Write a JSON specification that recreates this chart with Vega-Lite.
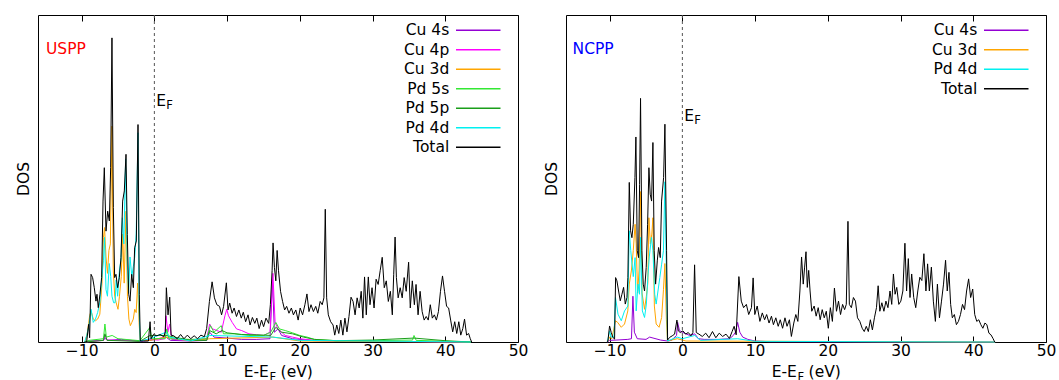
{
  "$schema": "https://vega.github.io/schema/vega-lite/v6.json",
  "padding": {"left": 15, "top": 14, "right": 0, "bottom": 0},
  "background": "white",
  "config": {
    "font": "DejaVu Sans",
    "view": {"stroke": "black", "strokeWidth": 1},
    "axis": {"grid": false, "labelFont": "DejaVu Sans", "titleFont": "DejaVu Sans"},
    "text": {"font": "DejaVu Sans", "color": "black"}
  },
  "bounds": "flush",
  "spacing": 48,
  "resolve": {"scale": {"color": "independent"}, "legend": {"color": "independent"}},
  "datasets": {
    "uspp": [
      {"s":"Cu 4s","x":-9.5,"y":0},{"s":"Cu 4s","x":-9,"y":0.3},{"s":"Cu 4s","x":-7,"y":0.5},{"s":"Cu 4s","x":-6.8,"y":1.2},{"s":"Cu 4s","x":-6.5,"y":0.5},{"s":"Cu 4s","x":-4.5,"y":0.8},{"s":"Cu 4s","x":-2,"y":0.2},{"s":"Cu 4s","x":-0.6,"y":0.5},{"s":"Cu 4s","x":1.6,"y":1.5},{"s":"Cu 4s","x":2.2,"y":0.5},{"s":"Cu 4s","x":5,"y":0.3},{"s":"Cu 4s","x":7.2,"y":0.5},{"s":"Cu 4s","x":7.6,"y":3},{"s":"Cu 4s","x":8.2,"y":1.5},{"s":"Cu 4s","x":10,"y":1.2},{"s":"Cu 4s","x":12,"y":0.8},{"s":"Cu 4s","x":14,"y":0.8},{"s":"Cu 4s","x":15.9,"y":1},{"s":"Cu 4s","x":16.25,"y":19},{"s":"Cu 4s","x":16.5,"y":3},{"s":"Cu 4s","x":17,"y":4},{"s":"Cu 4s","x":17.5,"y":2},{"s":"Cu 4s","x":19,"y":1},{"s":"Cu 4s","x":22,"y":0.4},{"s":"Cu 4s","x":30,"y":0.2},{"s":"Cu 4s","x":43.5,"y":0},
      {"s":"Cu 4p","x":-9.5,"y":0},{"s":"Cu 4p","x":-7,"y":0.5},{"s":"Cu 4p","x":-6.8,"y":2},{"s":"Cu 4p","x":-6.5,"y":0.6},{"s":"Cu 4p","x":-5,"y":0.5},{"s":"Cu 4p","x":-2,"y":0.3},{"s":"Cu 4p","x":-0.6,"y":0.8},{"s":"Cu 4p","x":0.5,"y":0.6},{"s":"Cu 4p","x":1.4,"y":1},{"s":"Cu 4p","x":1.6,"y":8},{"s":"Cu 4p","x":1.85,"y":3},{"s":"Cu 4p","x":2.1,"y":5.5},{"s":"Cu 4p","x":2.4,"y":0.8},{"s":"Cu 4p","x":5,"y":0.6},{"s":"Cu 4p","x":7.2,"y":1},{"s":"Cu 4p","x":7.6,"y":5.5},{"s":"Cu 4p","x":8,"y":4},{"s":"Cu 4p","x":8.6,"y":3.5},{"s":"Cu 4p","x":9.2,"y":3},{"s":"Cu 4p","x":9.7,"y":8},{"s":"Cu 4p","x":9.95,"y":10},{"s":"Cu 4p","x":10.2,"y":8},{"s":"Cu 4p","x":10.7,"y":6},{"s":"Cu 4p","x":11.3,"y":4},{"s":"Cu 4p","x":12,"y":3.5},{"s":"Cu 4p","x":13,"y":2.5},{"s":"Cu 4p","x":14,"y":2.2},{"s":"Cu 4p","x":15,"y":2},{"s":"Cu 4p","x":15.9,"y":3},{"s":"Cu 4p","x":16.3,"y":21},{"s":"Cu 4p","x":16.6,"y":6},{"s":"Cu 4p","x":17,"y":4},{"s":"Cu 4p","x":18,"y":2},{"s":"Cu 4p","x":19,"y":1.5},{"s":"Cu 4p","x":20,"y":1},{"s":"Cu 4p","x":22,"y":0.5},{"s":"Cu 4p","x":25,"y":0.3},{"s":"Cu 4p","x":43.5,"y":0},
      {"s":"Cu 3d","x":-9.5,"y":0},{"s":"Cu 3d","x":-9.2,"y":3},{"s":"Cu 3d","x":-8.9,"y":8},{"s":"Cu 3d","x":-8.7,"y":9.5},{"s":"Cu 3d","x":-8.4,"y":7},{"s":"Cu 3d","x":-8.1,"y":6.5},{"s":"Cu 3d","x":-7.8,"y":7},{"s":"Cu 3d","x":-7.5,"y":8.5},{"s":"Cu 3d","x":-7.2,"y":18},{"s":"Cu 3d","x":-7.0,"y":32},{"s":"Cu 3d","x":-6.85,"y":35},{"s":"Cu 3d","x":-6.65,"y":26},{"s":"Cu 3d","x":-6.45,"y":21},{"s":"Cu 3d","x":-6.25,"y":28},{"s":"Cu 3d","x":-6.05,"y":30},{"s":"Cu 3d","x":-5.83,"y":66},{"s":"Cu 3d","x":-5.65,"y":22},{"s":"Cu 3d","x":-5.45,"y":14},{"s":"Cu 3d","x":-5.25,"y":12},{"s":"Cu 3d","x":-5.0,"y":10},{"s":"Cu 3d","x":-4.8,"y":14},{"s":"Cu 3d","x":-4.55,"y":20},{"s":"Cu 3d","x":-4.35,"y":33},{"s":"Cu 3d","x":-4.15,"y":18},{"s":"Cu 3d","x":-3.9,"y":40},{"s":"Cu 3d","x":-3.7,"y":14},{"s":"Cu 3d","x":-3.5,"y":7},{"s":"Cu 3d","x":-3.3,"y":5},{"s":"Cu 3d","x":-3.1,"y":6},{"s":"Cu 3d","x":-2.9,"y":7},{"s":"Cu 3d","x":-2.7,"y":10},{"s":"Cu 3d","x":-2.5,"y":9},{"s":"Cu 3d","x":-2.3,"y":18},{"s":"Cu 3d","x":-2.1,"y":6},{"s":"Cu 3d","x":-1.95,"y":0.5},{"s":"Cu 3d","x":-0.6,"y":0.5},{"s":"Cu 3d","x":1.6,"y":1.5},{"s":"Cu 3d","x":5,"y":0.3},{"s":"Cu 3d","x":7.6,"y":1},{"s":"Cu 3d","x":16.3,"y":1.5},{"s":"Cu 3d","x":20,"y":0.3},{"s":"Cu 3d","x":43.5,"y":0},
      {"s":"Pd 5s","x":-9.5,"y":0},{"s":"Pd 5s","x":-9,"y":0.5},{"s":"Pd 5s","x":-7,"y":1},{"s":"Pd 5s","x":-6.8,"y":5.5},{"s":"Pd 5s","x":-6.6,"y":1.5},{"s":"Pd 5s","x":-5.8,"y":2},{"s":"Pd 5s","x":-5,"y":1},{"s":"Pd 5s","x":-2,"y":0.4},{"s":"Pd 5s","x":-0.6,"y":4.5},{"s":"Pd 5s","x":-0.4,"y":1},{"s":"Pd 5s","x":1.5,"y":1},{"s":"Pd 5s","x":1.7,"y":4},{"s":"Pd 5s","x":2,"y":1},{"s":"Pd 5s","x":5,"y":0.8},{"s":"Pd 5s","x":7.2,"y":1},{"s":"Pd 5s","x":7.7,"y":5},{"s":"Pd 5s","x":8.2,"y":3},{"s":"Pd 5s","x":9.2,"y":5},{"s":"Pd 5s","x":9.5,"y":2.5},{"s":"Pd 5s","x":11,"y":2.5},{"s":"Pd 5s","x":13,"y":2},{"s":"Pd 5s","x":15,"y":2},{"s":"Pd 5s","x":16,"y":3},{"s":"Pd 5s","x":16.7,"y":6},{"s":"Pd 5s","x":17.2,"y":4},{"s":"Pd 5s","x":18,"y":3.5},{"s":"Pd 5s","x":19,"y":2.8},{"s":"Pd 5s","x":20,"y":2},{"s":"Pd 5s","x":21,"y":1.5},{"s":"Pd 5s","x":22,"y":0.8},{"s":"Pd 5s","x":25,"y":0.4},{"s":"Pd 5s","x":30,"y":0.4},{"s":"Pd 5s","x":35.5,"y":0.6},{"s":"Pd 5s","x":35.7,"y":2},{"s":"Pd 5s","x":36,"y":0.5},{"s":"Pd 5s","x":43.5,"y":0},
      {"s":"Pd 5p","x":-9.5,"y":0},{"s":"Pd 5p","x":-7,"y":0.5},{"s":"Pd 5p","x":-6.8,"y":2.5},{"s":"Pd 5p","x":-6.5,"y":0.5},{"s":"Pd 5p","x":-2,"y":0.2},{"s":"Pd 5p","x":-0.6,"y":2},{"s":"Pd 5p","x":1.6,"y":2},{"s":"Pd 5p","x":5,"y":0.5},{"s":"Pd 5p","x":7.2,"y":0.5},{"s":"Pd 5p","x":7.6,"y":3.5},{"s":"Pd 5p","x":8.5,"y":2.5},{"s":"Pd 5p","x":9.3,"y":3.5},{"s":"Pd 5p","x":10,"y":2.8},{"s":"Pd 5p","x":12,"y":2.3},{"s":"Pd 5p","x":14,"y":2.2},{"s":"Pd 5p","x":16,"y":2},{"s":"Pd 5p","x":16.7,"y":4.5},{"s":"Pd 5p","x":17.5,"y":3},{"s":"Pd 5p","x":19,"y":2.5},{"s":"Pd 5p","x":20.5,"y":1.5},{"s":"Pd 5p","x":22,"y":0.8},{"s":"Pd 5p","x":25,"y":0.4},{"s":"Pd 5p","x":30,"y":0.6},{"s":"Pd 5p","x":35.7,"y":1.2},{"s":"Pd 5p","x":40,"y":0.4},{"s":"Pd 5p","x":43.5,"y":0},
      {"s":"Pd 4d","x":-9.6,"y":0},{"s":"Pd 4d","x":-9.3,"y":2},{"s":"Pd 4d","x":-9.0,"y":5},{"s":"Pd 4d","x":-8.7,"y":10},{"s":"Pd 4d","x":-8.4,"y":6},{"s":"Pd 4d","x":-8.1,"y":7},{"s":"Pd 4d","x":-7.8,"y":9},{"s":"Pd 4d","x":-7.5,"y":12},{"s":"Pd 4d","x":-7.25,"y":19},{"s":"Pd 4d","x":-7.0,"y":25},{"s":"Pd 4d","x":-6.85,"y":32},{"s":"Pd 4d","x":-6.65,"y":16},{"s":"Pd 4d","x":-6.45,"y":14},{"s":"Pd 4d","x":-6.2,"y":24},{"s":"Pd 4d","x":-6.0,"y":20},{"s":"Pd 4d","x":-5.83,"y":14},{"s":"Pd 4d","x":-5.6,"y":12},{"s":"Pd 4d","x":-5.4,"y":12},{"s":"Pd 4d","x":-5.25,"y":19},{"s":"Pd 4d","x":-5.05,"y":14},{"s":"Pd 4d","x":-4.8,"y":22},{"s":"Pd 4d","x":-4.6,"y":25},{"s":"Pd 4d","x":-4.4,"y":38},{"s":"Pd 4d","x":-4.2,"y":30},{"s":"Pd 4d","x":-3.95,"y":56},{"s":"Pd 4d","x":-3.75,"y":26},{"s":"Pd 4d","x":-3.55,"y":15},{"s":"Pd 4d","x":-3.35,"y":26},{"s":"Pd 4d","x":-3.1,"y":20},{"s":"Pd 4d","x":-2.9,"y":23},{"s":"Pd 4d","x":-2.7,"y":26},{"s":"Pd 4d","x":-2.5,"y":33},{"s":"Pd 4d","x":-2.25,"y":64},{"s":"Pd 4d","x":-2.1,"y":10},{"s":"Pd 4d","x":-1.95,"y":0.3},{"s":"Pd 4d","x":-0.6,"y":1},{"s":"Pd 4d","x":1.6,"y":3},{"s":"Pd 4d","x":2.1,"y":1.5},{"s":"Pd 4d","x":5,"y":0.3},{"s":"Pd 4d","x":7.6,"y":2},{"s":"Pd 4d","x":16.3,"y":1.5},{"s":"Pd 4d","x":20,"y":0.5},{"s":"Pd 4d","x":43.5,"y":0},
      {"s":"Total","x":-9.6,"y":0},{"s":"Total","x":-9.31,"y":0},{"s":"Total","x":-9.04,"y":5.4},{"s":"Total","x":-8.9,"y":1.3},{"s":"Total","x":-8.71,"y":20.7},{"s":"Total","x":-8.49,"y":19.7},{"s":"Total","x":-8.26,"y":16.6},{"s":"Total","x":-8.03,"y":12.5},{"s":"Total","x":-7.89,"y":14.6},{"s":"Total","x":-7.71,"y":10.5},{"s":"Total","x":-7.48,"y":14.6},{"s":"Total","x":-7.25,"y":19.7},{"s":"Total","x":-7.06,"y":43.1},{"s":"Total","x":-6.88,"y":53.3},{"s":"Total","x":-6.65,"y":33.9},{"s":"Total","x":-6.42,"y":40.0},{"s":"Total","x":-6.19,"y":37.0},{"s":"Total","x":-6.01,"y":53.3},{"s":"Total","x":-5.83,"y":93.0},{"s":"Total","x":-5.64,"y":41.1},{"s":"Total","x":-5.46,"y":19.7},{"s":"Total","x":-5.28,"y":20.7},{"s":"Total","x":-5.05,"y":16.6},{"s":"Total","x":-4.82,"y":19.7},{"s":"Total","x":-4.59,"y":25.8},{"s":"Total","x":-4.36,"y":43.1},{"s":"Total","x":-4.13,"y":46.2},{"s":"Total","x":-3.9,"y":57.4},{"s":"Total","x":-3.72,"y":32.9},{"s":"Total","x":-3.53,"y":14.6},{"s":"Total","x":-3.35,"y":12.5},{"s":"Total","x":-3.12,"y":20.7},{"s":"Total","x":-2.89,"y":16.6},{"s":"Total","x":-2.71,"y":28.8},{"s":"Total","x":-2.48,"y":30.9},{"s":"Total","x":-2.25,"y":66.5},{"s":"Total","x":-2.07,"y":14.6},{"s":"Total","x":-1.93,"y":0.3},{"s":"Total","x":-1.52,"y":0.3},{"s":"Total","x":-0.82,"y":0.3},{"s":"Total","x":-0.59,"y":6.2},{"s":"Total","x":-0.45,"y":1.0},{"s":"Total","x":-0.12,"y":2.3},{"s":"Total","x":0.35,"y":1.9},{"s":"Total","x":0.81,"y":2.3},{"s":"Total","x":1.28,"y":1.6},{"s":"Total","x":1.51,"y":3.1},{"s":"Total","x":1.65,"y":16.6},{"s":"Total","x":1.88,"y":8.3},{"s":"Total","x":2.11,"y":13.7},{"s":"Total","x":2.3,"y":2.1},{"s":"Total","x":2.67,"y":1.9},{"s":"Total","x":3.14,"y":1.0},{"s":"Total","x":3.61,"y":2.3},{"s":"Total","x":4.07,"y":1.0},{"s":"Total","x":4.54,"y":2.1},{"s":"Total","x":5.0,"y":1.0},{"s":"Total","x":5.47,"y":1.9},{"s":"Total","x":5.94,"y":1.0},{"s":"Total","x":6.4,"y":2.1},{"s":"Total","x":6.87,"y":1.6},{"s":"Total","x":7.19,"y":4.1},{"s":"Total","x":7.57,"y":12.4},{"s":"Total","x":7.94,"y":18.4},{"s":"Total","x":8.26,"y":13.5},{"s":"Total","x":8.59,"y":11.4},{"s":"Total","x":8.96,"y":10.9},{"s":"Total","x":9.24,"y":8.3},{"s":"Total","x":9.52,"y":10.9},{"s":"Total","x":9.9,"y":18.1},{"s":"Total","x":10.13,"y":9.8},{"s":"Total","x":10.36,"y":11.9},{"s":"Total","x":10.69,"y":8.8},{"s":"Total","x":10.97,"y":10.4},{"s":"Total","x":11.29,"y":7.8},{"s":"Total","x":11.62,"y":9.8},{"s":"Total","x":11.95,"y":7.3},{"s":"Total","x":12.23,"y":9.1},{"s":"Total","x":12.55,"y":6.2},{"s":"Total","x":12.88,"y":8.3},{"s":"Total","x":13.16,"y":5.2},{"s":"Total","x":13.48,"y":7.5},{"s":"Total","x":13.81,"y":5.7},{"s":"Total","x":14.09,"y":7.3},{"s":"Total","x":14.41,"y":4.1},{"s":"Total","x":14.74,"y":6.7},{"s":"Total","x":15.02,"y":4.7},{"s":"Total","x":15.35,"y":7.3},{"s":"Total","x":15.72,"y":5.7},{"s":"Total","x":15.95,"y":11.4},{"s":"Total","x":16.19,"y":21.8},{"s":"Total","x":16.32,"y":30.3},{"s":"Total","x":16.51,"y":22.8},{"s":"Total","x":16.7,"y":18.7},{"s":"Total","x":16.88,"y":28.0},{"s":"Total","x":17.07,"y":21.8},{"s":"Total","x":17.35,"y":15.5},{"s":"Total","x":17.63,"y":12.4},{"s":"Total","x":17.91,"y":9.8},{"s":"Total","x":18.19,"y":10.9},{"s":"Total","x":18.51,"y":8.8},{"s":"Total","x":18.84,"y":10.4},{"s":"Total","x":19.12,"y":8.3},{"s":"Total","x":19.45,"y":9.8},{"s":"Total","x":19.77,"y":6.7},{"s":"Total","x":20.05,"y":10.4},{"s":"Total","x":20.38,"y":8.3},{"s":"Total","x":20.7,"y":11.4},{"s":"Total","x":20.98,"y":14.7},{"s":"Total","x":21.26,"y":9.3},{"s":"Total","x":21.54,"y":11.4},{"s":"Total","x":21.87,"y":9.3},{"s":"Total","x":22.19,"y":10.9},{"s":"Total","x":22.47,"y":8.8},{"s":"Total","x":22.8,"y":12.4},{"s":"Total","x":23.08,"y":11.4},{"s":"Total","x":23.31,"y":13.5},{"s":"Total","x":23.5,"y":40.6},{"s":"Total","x":23.69,"y":13.5},{"s":"Total","x":23.92,"y":8.3},{"s":"Total","x":24.24,"y":6.2},{"s":"Total","x":24.57,"y":5.2},{"s":"Total","x":24.8,"y":2.1},{"s":"Total","x":25.08,"y":5.2},{"s":"Total","x":25.36,"y":2.6},{"s":"Total","x":25.64,"y":6.7},{"s":"Total","x":25.92,"y":2.1},{"s":"Total","x":26.2,"y":7.3},{"s":"Total","x":26.48,"y":3.1},{"s":"Total","x":26.76,"y":7.8},{"s":"Total","x":27.04,"y":13.7},{"s":"Total","x":27.32,"y":12.4},{"s":"Total","x":27.6,"y":8.3},{"s":"Total","x":27.88,"y":13.5},{"s":"Total","x":28.16,"y":10.4},{"s":"Total","x":28.44,"y":15.5},{"s":"Total","x":28.67,"y":7.3},{"s":"Total","x":28.9,"y":19.9},{"s":"Total","x":29.14,"y":8.3},{"s":"Total","x":29.42,"y":19.9},{"s":"Total","x":29.65,"y":11.4},{"s":"Total","x":29.93,"y":16.6},{"s":"Total","x":30.21,"y":10.4},{"s":"Total","x":30.49,"y":19.2},{"s":"Total","x":30.77,"y":17.6},{"s":"Total","x":31.05,"y":21.8},{"s":"Total","x":31.33,"y":25.9},{"s":"Total","x":31.61,"y":16.6},{"s":"Total","x":31.89,"y":18.7},{"s":"Total","x":32.17,"y":12.4},{"s":"Total","x":32.45,"y":15.5},{"s":"Total","x":32.72,"y":8.3},{"s":"Total","x":32.91,"y":20.7},{"s":"Total","x":33.1,"y":32.1},{"s":"Total","x":33.28,"y":19.7},{"s":"Total","x":33.52,"y":13.5},{"s":"Total","x":33.8,"y":16.6},{"s":"Total","x":34.08,"y":13.5},{"s":"Total","x":34.35,"y":19.7},{"s":"Total","x":34.63,"y":15.5},{"s":"Total","x":34.96,"y":24.4},{"s":"Total","x":35.19,"y":10.4},{"s":"Total","x":35.47,"y":18.7},{"s":"Total","x":35.75,"y":11.4},{"s":"Total","x":35.98,"y":17.6},{"s":"Total","x":36.26,"y":8.3},{"s":"Total","x":36.54,"y":15.5},{"s":"Total","x":36.82,"y":9.3},{"s":"Total","x":37.1,"y":6.7},{"s":"Total","x":37.38,"y":7.8},{"s":"Total","x":37.66,"y":6.7},{"s":"Total","x":37.94,"y":11.4},{"s":"Total","x":38.22,"y":7.3},{"s":"Total","x":38.5,"y":8.3},{"s":"Total","x":38.78,"y":6.7},{"s":"Total","x":39.06,"y":9.3},{"s":"Total","x":39.34,"y":15.5},{"s":"Total","x":39.62,"y":20.2},{"s":"Total","x":39.9,"y":15.5},{"s":"Total","x":40.18,"y":10.9},{"s":"Total","x":40.46,"y":10.4},{"s":"Total","x":40.74,"y":6.7},{"s":"Total","x":41.02,"y":3.1},{"s":"Total","x":41.3,"y":6.2},{"s":"Total","x":41.58,"y":2.6},{"s":"Total","x":41.86,"y":6.2},{"s":"Total","x":42.13,"y":2.1},{"s":"Total","x":42.41,"y":4.1},{"s":"Total","x":42.65,"y":7.0},{"s":"Total","x":42.93,"y":2.1},{"s":"Total","x":43.21,"y":2.6},{"s":"Total","x":43.44,"y":1.0},{"s":"Total","x":43.63,"y":0}
    ],
    "ncpp": [
      {"s":"Cu 4s","x":-10.3,"y":0},{"s":"Cu 4s","x":-10,"y":0.5},{"s":"Cu 4s","x":-9,"y":0.6},{"s":"Cu 4s","x":-7.5,"y":0.8},{"s":"Cu 4s","x":-7.0,"y":1},{"s":"Cu 4s","x":-6.8,"y":14},{"s":"Cu 4s","x":-6.6,"y":3},{"s":"Cu 4s","x":-6.2,"y":1},{"s":"Cu 4s","x":-5,"y":0.8},{"s":"Cu 4s","x":-4.5,"y":1.5},{"s":"Cu 4s","x":-3,"y":0.6},{"s":"Cu 4s","x":-2.05,"y":0.3},{"s":"Cu 4s","x":-1.5,"y":0.5},{"s":"Cu 4s","x":-0.8,"y":2},{"s":"Cu 4s","x":-0.65,"y":6},{"s":"Cu 4s","x":-0.4,"y":3.5},{"s":"Cu 4s","x":0,"y":3},{"s":"Cu 4s","x":0.5,"y":2.5},{"s":"Cu 4s","x":1,"y":2},{"s":"Cu 4s","x":1.7,"y":2.5},{"s":"Cu 4s","x":2.2,"y":1},{"s":"Cu 4s","x":3,"y":0.8},{"s":"Cu 4s","x":5,"y":0.8},{"s":"Cu 4s","x":6.5,"y":1},{"s":"Cu 4s","x":7.0,"y":2},{"s":"Cu 4s","x":7.3,"y":3},{"s":"Cu 4s","x":7.6,"y":6},{"s":"Cu 4s","x":7.9,"y":3},{"s":"Cu 4s","x":8.3,"y":1.5},{"s":"Cu 4s","x":9,"y":0.8},{"s":"Cu 4s","x":10,"y":0.3},{"s":"Cu 4s","x":12,"y":0.1},{"s":"Cu 4s","x":43,"y":0},
      {"s":"Cu 3d","x":-10.3,"y":0},{"s":"Cu 3d","x":-10.0,"y":1.5},{"s":"Cu 3d","x":-9.7,"y":1},{"s":"Cu 3d","x":-9.2,"y":6.5},{"s":"Cu 3d","x":-8.9,"y":6},{"s":"Cu 3d","x":-8.4,"y":4.5},{"s":"Cu 3d","x":-7.95,"y":5.5},{"s":"Cu 3d","x":-7.5,"y":9.5},{"s":"Cu 3d","x":-7.3,"y":17.7},{"s":"Cu 3d","x":-7.0,"y":22},{"s":"Cu 3d","x":-6.75,"y":28},{"s":"Cu 3d","x":-6.5,"y":36},{"s":"Cu 3d","x":-6.35,"y":30},{"s":"Cu 3d","x":-6.15,"y":15},{"s":"Cu 3d","x":-5.95,"y":22},{"s":"Cu 3d","x":-5.75,"y":46},{"s":"Cu 3d","x":-5.55,"y":15},{"s":"Cu 3d","x":-5.2,"y":10},{"s":"Cu 3d","x":-4.95,"y":14},{"s":"Cu 3d","x":-4.75,"y":18},{"s":"Cu 3d","x":-4.6,"y":38},{"s":"Cu 3d","x":-4.4,"y":30},{"s":"Cu 3d","x":-4.2,"y":33},{"s":"Cu 3d","x":-4.05,"y":38},{"s":"Cu 3d","x":-3.85,"y":11},{"s":"Cu 3d","x":-3.6,"y":5.5},{"s":"Cu 3d","x":-3.2,"y":4.5},{"s":"Cu 3d","x":-2.85,"y":7.5},{"s":"Cu 3d","x":-2.6,"y":16},{"s":"Cu 3d","x":-2.4,"y":24},{"s":"Cu 3d","x":-2.2,"y":7},{"s":"Cu 3d","x":-2.05,"y":0.3},{"s":"Cu 3d","x":-0.7,"y":1},{"s":"Cu 3d","x":0.5,"y":0.3},{"s":"Cu 3d","x":43,"y":0},
      {"s":"Pd 4d","x":-10.3,"y":0},{"s":"Pd 4d","x":-10.0,"y":3.4},{"s":"Pd 4d","x":-9.8,"y":1.5},{"s":"Pd 4d","x":-9.4,"y":1.5},{"s":"Pd 4d","x":-9.2,"y":13.6},{"s":"Pd 4d","x":-8.85,"y":8.5},{"s":"Pd 4d","x":-8.4,"y":6.5},{"s":"Pd 4d","x":-7.95,"y":9.5},{"s":"Pd 4d","x":-7.5,"y":11},{"s":"Pd 4d","x":-7.3,"y":34},{"s":"Pd 4d","x":-7.1,"y":28},{"s":"Pd 4d","x":-6.75,"y":20},{"s":"Pd 4d","x":-6.5,"y":25.8},{"s":"Pd 4d","x":-6.35,"y":9.5},{"s":"Pd 4d","x":-6.1,"y":17.7},{"s":"Pd 4d","x":-5.9,"y":14.6},{"s":"Pd 4d","x":-5.75,"y":32},{"s":"Pd 4d","x":-5.5,"y":9.5},{"s":"Pd 4d","x":-5.2,"y":7.5},{"s":"Pd 4d","x":-4.95,"y":11.6},{"s":"Pd 4d","x":-4.75,"y":19.7},{"s":"Pd 4d","x":-4.55,"y":26},{"s":"Pd 4d","x":-4.25,"y":32},{"s":"Pd 4d","x":-4.05,"y":28},{"s":"Pd 4d","x":-3.8,"y":14.6},{"s":"Pd 4d","x":-3.6,"y":11.6},{"s":"Pd 4d","x":-3.1,"y":19.7},{"s":"Pd 4d","x":-2.85,"y":23.8},{"s":"Pd 4d","x":-2.6,"y":27.9},{"s":"Pd 4d","x":-2.4,"y":49},{"s":"Pd 4d","x":-2.2,"y":22},{"s":"Pd 4d","x":-2.05,"y":0.3},{"s":"Pd 4d","x":-0.7,"y":1.5},{"s":"Pd 4d","x":0,"y":1},{"s":"Pd 4d","x":1.7,"y":2},{"s":"Pd 4d","x":2.5,"y":0.5},{"s":"Pd 4d","x":7.6,"y":1},{"s":"Pd 4d","x":10,"y":0.2},{"s":"Pd 4d","x":43,"y":0},
      {"s":"Total","x":-10.4,"y":0},{"s":"Total","x":-10.24,"y":0.3},{"s":"Total","x":-10.01,"y":4.9},{"s":"Total","x":-9.78,"y":2.9},{"s":"Total","x":-9.55,"y":1.4},{"s":"Total","x":-9.32,"y":0.9},{"s":"Total","x":-9.18,"y":19.7},{"s":"Total","x":-9.0,"y":18.7},{"s":"Total","x":-8.77,"y":15.6},{"s":"Total","x":-8.54,"y":12.6},{"s":"Total","x":-8.31,"y":14.6},{"s":"Total","x":-8.08,"y":16.7},{"s":"Total","x":-7.85,"y":11.6},{"s":"Total","x":-7.62,"y":13.6},{"s":"Total","x":-7.49,"y":19.7},{"s":"Total","x":-7.3,"y":48.8},{"s":"Total","x":-7.12,"y":34.0},{"s":"Total","x":-6.94,"y":31.9},{"s":"Total","x":-6.75,"y":36.0},{"s":"Total","x":-6.52,"y":50.3},{"s":"Total","x":-6.39,"y":62.7},{"s":"Total","x":-6.2,"y":27.9},{"s":"Total","x":-6.02,"y":25.8},{"s":"Total","x":-5.88,"y":48.2},{"s":"Total","x":-5.75,"y":74.5},{"s":"Total","x":-5.56,"y":27.9},{"s":"Total","x":-5.38,"y":17.7},{"s":"Total","x":-5.2,"y":15.6},{"s":"Total","x":-4.97,"y":22.8},{"s":"Total","x":-4.78,"y":36.0},{"s":"Total","x":-4.6,"y":53.3},{"s":"Total","x":-4.42,"y":45.2},{"s":"Total","x":-4.23,"y":43.1},{"s":"Total","x":-4.05,"y":61.0},{"s":"Total","x":-3.87,"y":27.9},{"s":"Total","x":-3.68,"y":17.7},{"s":"Total","x":-3.45,"y":24.8},{"s":"Total","x":-3.27,"y":28.9},{"s":"Total","x":-3.04,"y":25.8},{"s":"Total","x":-2.86,"y":43.1},{"s":"Total","x":-2.58,"y":50.3},{"s":"Total","x":-2.4,"y":66.6},{"s":"Total","x":-2.17,"y":27.9},{"s":"Total","x":-2.03,"y":0.6},{"s":"Total","x":-1.76,"y":1.4},{"s":"Total","x":-1.39,"y":1.9},{"s":"Total","x":-1.07,"y":2.4},{"s":"Total","x":-0.75,"y":6.7},{"s":"Total","x":-0.56,"y":3.4},{"s":"Total","x":-0.29,"y":2.9},{"s":"Total","x":0.08,"y":3.4},{"s":"Total","x":0.45,"y":2.4},{"s":"Total","x":0.81,"y":2.9},{"s":"Total","x":1.18,"y":1.9},{"s":"Total","x":1.45,"y":2.9},{"s":"Total","x":1.68,"y":23.6},{"s":"Total","x":1.91,"y":2.9},{"s":"Total","x":2.28,"y":2.4},{"s":"Total","x":2.74,"y":1.7},{"s":"Total","x":3.21,"y":2.7},{"s":"Total","x":3.67,"y":1.3},{"s":"Total","x":4.14,"y":3.2},{"s":"Total","x":4.6,"y":1.3},{"s":"Total","x":5.07,"y":2.7},{"s":"Total","x":5.54,"y":1.7},{"s":"Total","x":6.0,"y":2.4},{"s":"Total","x":6.47,"y":1.1},{"s":"Total","x":6.84,"y":3.2},{"s":"Total","x":7.12,"y":4.8},{"s":"Total","x":7.4,"y":2.2},{"s":"Total","x":7.77,"y":20.0},{"s":"Total","x":8.1,"y":12.5},{"s":"Total","x":8.42,"y":10.5},{"s":"Total","x":8.8,"y":11.5},{"s":"Total","x":9.12,"y":8.4},{"s":"Total","x":9.5,"y":10.5},{"s":"Total","x":9.73,"y":19.6},{"s":"Total","x":9.96,"y":8.4},{"s":"Total","x":10.29,"y":11.0},{"s":"Total","x":10.66,"y":6.3},{"s":"Total","x":10.99,"y":8.9},{"s":"Total","x":11.31,"y":6.8},{"s":"Total","x":11.59,"y":8.4},{"s":"Total","x":11.92,"y":5.8},{"s":"Total","x":12.25,"y":7.9},{"s":"Total","x":12.52,"y":5.3},{"s":"Total","x":12.85,"y":7.4},{"s":"Total","x":13.18,"y":4.8},{"s":"Total","x":13.46,"y":6.8},{"s":"Total","x":13.78,"y":4.2},{"s":"Total","x":14.11,"y":7.4},{"s":"Total","x":14.39,"y":4.8},{"s":"Total","x":14.72,"y":6.8},{"s":"Total","x":14.99,"y":1.7},{"s":"Total","x":15.32,"y":5.8},{"s":"Total","x":15.6,"y":8.4},{"s":"Total","x":15.88,"y":6.3},{"s":"Total","x":16.16,"y":15.6},{"s":"Total","x":16.39,"y":26.0},{"s":"Total","x":16.62,"y":17.7},{"s":"Total","x":16.81,"y":22.9},{"s":"Total","x":17.0,"y":27.6},{"s":"Total","x":17.18,"y":16.7},{"s":"Total","x":17.37,"y":21.9},{"s":"Total","x":17.56,"y":15.6},{"s":"Total","x":17.79,"y":9.4},{"s":"Total","x":18.12,"y":11.0},{"s":"Total","x":18.4,"y":7.9},{"s":"Total","x":18.68,"y":10.5},{"s":"Total","x":18.95,"y":6.8},{"s":"Total","x":19.23,"y":9.9},{"s":"Total","x":19.51,"y":7.4},{"s":"Total","x":19.79,"y":9.4},{"s":"Total","x":20.07,"y":4.2},{"s":"Total","x":20.35,"y":10.5},{"s":"Total","x":20.63,"y":6.3},{"s":"Total","x":20.91,"y":16.5},{"s":"Total","x":21.19,"y":9.4},{"s":"Total","x":21.47,"y":12.5},{"s":"Total","x":21.75,"y":8.4},{"s":"Total","x":22.03,"y":11.5},{"s":"Total","x":22.31,"y":9.9},{"s":"Total","x":22.54,"y":11.5},{"s":"Total","x":22.77,"y":36.9},{"s":"Total","x":22.96,"y":11.5},{"s":"Total","x":23.24,"y":10.5},{"s":"Total","x":23.52,"y":13.6},{"s":"Total","x":23.8,"y":12.5},{"s":"Total","x":24.08,"y":7.4},{"s":"Total","x":24.4,"y":6.3},{"s":"Total","x":24.73,"y":4.2},{"s":"Total","x":25.01,"y":3.2},{"s":"Total","x":25.29,"y":4.8},{"s":"Total","x":25.57,"y":3.2},{"s":"Total","x":25.85,"y":6.8},{"s":"Total","x":26.13,"y":3.7},{"s":"Total","x":26.41,"y":7.4},{"s":"Total","x":26.69,"y":10.5},{"s":"Total","x":26.92,"y":17.2},{"s":"Total","x":27.15,"y":9.4},{"s":"Total","x":27.43,"y":12.0},{"s":"Total","x":27.71,"y":9.4},{"s":"Total","x":27.99,"y":12.5},{"s":"Total","x":28.27,"y":10.5},{"s":"Total","x":28.55,"y":15.6},{"s":"Total","x":28.79,"y":11.5},{"s":"Total","x":29.02,"y":20.8},{"s":"Total","x":29.25,"y":14.6},{"s":"Total","x":29.48,"y":16.7},{"s":"Total","x":29.76,"y":11.5},{"s":"Total","x":30.04,"y":12.5},{"s":"Total","x":30.32,"y":15.6},{"s":"Total","x":30.6,"y":30.2},{"s":"Total","x":30.83,"y":15.6},{"s":"Total","x":31.07,"y":25.5},{"s":"Total","x":31.3,"y":13.6},{"s":"Total","x":31.53,"y":20.8},{"s":"Total","x":31.81,"y":13.6},{"s":"Total","x":32.09,"y":10.5},{"s":"Total","x":32.37,"y":15.6},{"s":"Total","x":32.65,"y":19.8},{"s":"Total","x":32.93,"y":18.8},{"s":"Total","x":33.21,"y":27.0},{"s":"Total","x":33.49,"y":15.6},{"s":"Total","x":33.72,"y":23.9},{"s":"Total","x":33.96,"y":15.6},{"s":"Total","x":34.24,"y":22.9},{"s":"Total","x":34.51,"y":12.5},{"s":"Total","x":34.79,"y":6.3},{"s":"Total","x":35.07,"y":17.7},{"s":"Total","x":35.35,"y":7.4},{"s":"Total","x":35.63,"y":12.5},{"s":"Total","x":35.91,"y":17.7},{"s":"Total","x":36.19,"y":25.0},{"s":"Total","x":36.42,"y":15.6},{"s":"Total","x":36.66,"y":21.3},{"s":"Total","x":36.89,"y":11.5},{"s":"Total","x":37.12,"y":7.4},{"s":"Total","x":37.4,"y":8.4},{"s":"Total","x":37.68,"y":5.3},{"s":"Total","x":37.96,"y":6.3},{"s":"Total","x":38.24,"y":8.4},{"s":"Total","x":38.52,"y":11.5},{"s":"Total","x":38.8,"y":9.9},{"s":"Total","x":39.08,"y":15.6},{"s":"Total","x":39.36,"y":19.3},{"s":"Total","x":39.64,"y":13.6},{"s":"Total","x":39.92,"y":16.2},{"s":"Total","x":40.2,"y":8.4},{"s":"Total","x":40.48,"y":6.3},{"s":"Total","x":40.76,"y":6.8},{"s":"Total","x":41.04,"y":5.3},{"s":"Total","x":41.32,"y":4.2},{"s":"Total","x":41.6,"y":5.8},{"s":"Total","x":41.87,"y":5.3},{"s":"Total","x":42.15,"y":2.7},{"s":"Total","x":42.43,"y":2.2},{"s":"Total","x":42.71,"y":1.1},{"s":"Total","x":42.95,"y":0}
    ]
  },
  "hconcat": [
    {
      "width": 480, "height": 327,
      "resolve": {"axis": {"x": "independent"}},
      "layer": [
        {
          "data": {"name": "uspp"},
          "mark": {"type": "line", "strokeWidth": 1},
          "encoding": {
            "x": {"field": "x", "type": "quantitative", "scale": {"domain": [-16, 50], "nice": false, "zero": false},
              "axis": {"values": [-10, 0, 10, 20, 30, 40, 50], "tickSize": -6, "tickColor": "black", "domain": false, "labelPadding": 7, "labelFontSize": 15.5, "labelColor": "black", "labelFlush": false, "title": null, "grid": false}},
            "y": {"field": "y", "type": "quantitative", "scale": {"domain": [0, 100], "nice": false},
              "axis": {"title": "DOS", "labels": false, "ticks": false, "domain": false, "grid": false, "titlePadding": 7, "titleFontSize": 15.5, "titleFontWeight": "normal", "titleColor": "black"}},
            "color": {"field": "s", "type": "nominal",
              "scale": {"domain": ["Cu 4s", "Cu 4p", "Cu 3d", "Pd 5s", "Pd 5p", "Pd 4d", "Total"], "range": ["#9400d3", "#ff00ff", "#ffa500", "#33e833", "#1a9e1a", "#00f0f0", "#000000"]},
              "legend": {"orient": "none", "legendX": 432.5, "legendY": 7.5, "title": null, "padding": 0, "symbolType": "M-4.45,0H4.45", "symbolSize": 100, "symbolStrokeWidth": 1.5, "labelAlign": "right", "labelOffset": -36.75, "labelFontSize": 15.5, "labelFont": "DejaVu Sans", "labelColor": "black", "rowPadding": 2.5}}
          }
        },
        {
          "data": {"values": [{}]},
          "mark": {"type": "rule", "strokeDash": [3, 3], "color": "#555555", "strokeWidth": 1},
          "encoding": {"x": {"datum": 0, "type": "quantitative",
            "axis": {"orient": "top", "values": [-10, 0, 10, 20, 30, 40, 50], "tickSize": -6, "tickColor": "black", "labels": false, "domain": false, "title": null, "grid": false}}}
        },
        {
          "data": {"values": [{}]},
          "mark": {"type": "text", "text": "E", "align": "left", "baseline": "alphabetic", "dx": 2, "fontSize": 15.5},
          "encoding": {"x": {"datum": 0, "type": "quantitative", "axis": null}, "y": {"datum": 72.2, "type": "quantitative"}}
        },
        {
          "data": {"values": [{}]},
          "mark": {"type": "text", "text": "F", "align": "left", "baseline": "alphabetic", "dx": 11.8, "dy": 3, "fontSize": 11.5},
          "encoding": {"x": {"datum": 0, "type": "quantitative", "axis": null}, "y": {"datum": 72.2, "type": "quantitative"}}
        },
        {
          "data": {"values": [{}]},
          "mark": {"type": "text", "text": "USPP", "align": "left", "baseline": "alphabetic", "fontSize": 15.5, "color": "#ff0000"},
          "encoding": {"x": {"datum": -14.9, "type": "quantitative", "axis": null}, "y": {"datum": 88.2, "type": "quantitative"}}
        },
        {
          "data": {"values": [{}]},
          "mark": {"type": "text", "text": "E-E", "align": "right", "baseline": "alphabetic", "dy": 35, "fontSize": 15.5},
          "encoding": {"x": {"datum": 15.75, "type": "quantitative", "axis": null}, "y": {"datum": 0, "type": "quantitative"}}
        },
        {
          "data": {"values": [{}]},
          "mark": {"type": "text", "text": "F", "align": "left", "baseline": "alphabetic", "dx": 0.5, "dy": 38.5, "fontSize": 11.5},
          "encoding": {"x": {"datum": 15.75, "type": "quantitative", "axis": null}, "y": {"datum": 0, "type": "quantitative"}}
        },
        {
          "data": {"values": [{}]},
          "mark": {"type": "text", "text": "(eV)", "align": "left", "baseline": "alphabetic", "dx": 11.7, "dy": 35, "fontSize": 15.5},
          "encoding": {"x": {"datum": 15.75, "type": "quantitative", "axis": null}, "y": {"datum": 0, "type": "quantitative"}}
        }
      ]
    },
    {
      "width": 480, "height": 327,
      "resolve": {"axis": {"x": "independent"}},
      "layer": [
        {
          "data": {"name": "ncpp"},
          "mark": {"type": "line", "strokeWidth": 1},
          "encoding": {
            "x": {"field": "x", "type": "quantitative", "scale": {"domain": [-16, 50], "nice": false, "zero": false},
              "axis": {"values": [-10, 0, 10, 20, 30, 40, 50], "tickSize": -6, "tickColor": "black", "domain": false, "labelPadding": 7, "labelFontSize": 15.5, "labelColor": "black", "labelFlush": false, "title": null, "grid": false}},
            "y": {"field": "y", "type": "quantitative", "scale": {"domain": [0, 100], "nice": false},
              "axis": {"title": "DOS", "labels": false, "ticks": false, "domain": false, "grid": false, "titlePadding": 7, "titleFontSize": 15.5, "titleFontWeight": "normal", "titleColor": "black"}},
            "color": {"field": "s", "type": "nominal",
              "scale": {"domain": ["Cu 4s", "Cu 3d", "Pd 4d", "Total"], "range": ["#9400d3", "#ffa500", "#00f0f0", "#000000"]},
              "legend": {"orient": "none", "legendX": 432.5, "legendY": 7.5, "title": null, "padding": 0, "symbolType": "M-4.45,0H4.45", "symbolSize": 100, "symbolStrokeWidth": 1.5, "labelAlign": "right", "labelOffset": -36.75, "labelFontSize": 15.5, "labelFont": "DejaVu Sans", "labelColor": "black", "rowPadding": 2.5}}
          }
        },
        {
          "data": {"values": [{}]},
          "mark": {"type": "rule", "strokeDash": [3, 3], "color": "#555555", "strokeWidth": 1},
          "encoding": {"x": {"datum": 0, "type": "quantitative",
            "axis": {"orient": "top", "values": [-10, 0, 10, 20, 30, 40, 50], "tickSize": -6, "tickColor": "black", "labels": false, "domain": false, "title": null, "grid": false}}}
        },
        {
          "data": {"values": [{}]},
          "mark": {"type": "text", "text": "E", "align": "left", "baseline": "alphabetic", "dx": 2, "fontSize": 15.5},
          "encoding": {"x": {"datum": 0, "type": "quantitative", "axis": null}, "y": {"datum": 67.5, "type": "quantitative"}}
        },
        {
          "data": {"values": [{}]},
          "mark": {"type": "text", "text": "F", "align": "left", "baseline": "alphabetic", "dx": 11.8, "dy": 3, "fontSize": 11.5},
          "encoding": {"x": {"datum": 0, "type": "quantitative", "axis": null}, "y": {"datum": 67.5, "type": "quantitative"}}
        },
        {
          "data": {"values": [{}]},
          "mark": {"type": "text", "text": "NCPP", "align": "left", "baseline": "alphabetic", "fontSize": 15.5, "color": "#0000ff"},
          "encoding": {"x": {"datum": -15.1, "type": "quantitative", "axis": null}, "y": {"datum": 88.2, "type": "quantitative"}}
        },
        {
          "data": {"values": [{}]},
          "mark": {"type": "text", "text": "E-E", "align": "right", "baseline": "alphabetic", "dy": 35, "fontSize": 15.5},
          "encoding": {"x": {"datum": 15.75, "type": "quantitative", "axis": null}, "y": {"datum": 0, "type": "quantitative"}}
        },
        {
          "data": {"values": [{}]},
          "mark": {"type": "text", "text": "F", "align": "left", "baseline": "alphabetic", "dx": 0.5, "dy": 38.5, "fontSize": 11.5},
          "encoding": {"x": {"datum": 15.75, "type": "quantitative", "axis": null}, "y": {"datum": 0, "type": "quantitative"}}
        },
        {
          "data": {"values": [{}]},
          "mark": {"type": "text", "text": "(eV)", "align": "left", "baseline": "alphabetic", "dx": 11.7, "dy": 35, "fontSize": 15.5},
          "encoding": {"x": {"datum": 15.75, "type": "quantitative", "axis": null}, "y": {"datum": 0, "type": "quantitative"}}
        }
      ]
    }
  ]
}
